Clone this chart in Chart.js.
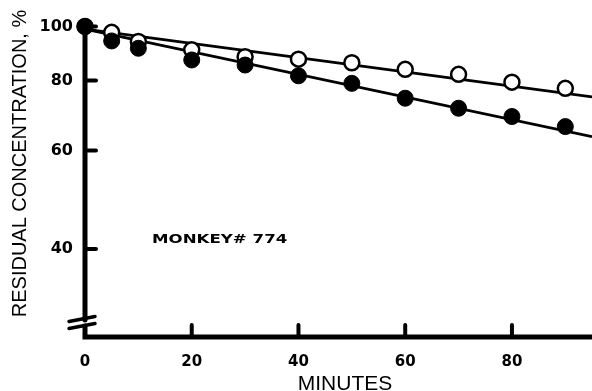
<!DOCTYPE html>
<html lang="en">
<head>
    <meta charset="UTF-8">
    <title>Residual concentration</title>
    <script src="https://cdn.jsdelivr.net/npm/chart.js"></script>
    <style>
        html, body { margin: 0; padding: 0; background: #fff; }
        #wrap { position: relative; width: 592px; height: 391px; }
    </style>
</head>
<body>
<div id="wrap"><canvas id="grafico"></canvas></div>
<script>
    // Data
    const minutes = [0, 5, 10, 20, 30, 40, 50, 60, 70, 80, 90];
    const openCircles = [100, 97.6, 94.0, 90.8, 88.3, 87.4, 86.1, 83.8, 82.1, 79.5, 77.5];
    const filledCircles = [100, 94.2, 91.4, 87.1, 85.3, 81.6, 79.1, 74.4, 71.4, 69.0, 66.2];
    // fitted straight lines (log scale), start and end
    const fitMinutes = [0, 95];
    const openFit = [98.9, 74.8];
    const filledFit = [98.9, 63.5];
    const xTicks = [0, 20, 40, 60, 80];
    const yTicks = [40, 60, 80, 100];

    const pts = (xs, ys) => xs.map((v, i) => ({x: v, y: ys[i]}));

    // no extra room for edge labels
    const noPad = s => { s.paddingTop = s.paddingBottom = s.paddingLeft = s.paddingRight = 0; };

    // hand drawn axes: ticks point inward, broken y axis
    const axesPlugin = {
        id: 'axes',
        beforeDatasetsDraw(chart) {
            const {ctx, chartArea, scales: {x, y}} = chart;
            const x0 = x.getPixelForValue(0);
            const b = chartArea.bottom;
            ctx.save();
            ctx.strokeStyle = '#000';
            ctx.lineCap = 'round';
            ctx.lineWidth = 5;
            ctx.beginPath();
            ctx.moveTo(x0, y.getPixelForValue(100));
            ctx.lineTo(x0, b - 17);
            ctx.moveTo(x0, b - 11);
            ctx.lineTo(x0, b);
            ctx.lineTo(chartArea.right + 5, b);
            ctx.stroke();

            ctx.lineWidth = 4;
            ctx.beginPath();
            yTicks.forEach(v => {
                const p = y.getPixelForValue(v);
                ctx.moveTo(x0, p);
                ctx.lineTo(x0 + 11, p);
            });
            xTicks.forEach(v => {
                if (v === 0) return;
                const p = x.getPixelForValue(v);
                ctx.moveTo(p, b);
                ctx.lineTo(p, b - 12);
            });
            ctx.stroke();

            // axis break
            ctx.lineWidth = 3.5;
            ctx.beginPath();
            [-15.5, -8.5].forEach(o => {
                ctx.moveTo(x0 - 16, b + o);
                ctx.lineTo(x0 + 10, b + o - 5);
            });
            ctx.stroke();
            ctx.restore();
        },
        afterDraw(chart) {
            const {ctx} = chart;
            ctx.save();
            ctx.fillStyle = '#000';

            ctx.font = '20px "Liberation Sans", Arial, sans-serif';
            ctx.textAlign = 'center';
            ctx.textBaseline = 'alphabetic';
            ctx.save();
            ctx.translate(26, 163.5);
            ctx.rotate(-Math.PI / 2);
            ctx.fillText('RESIDUAL CONCENTRATION, %', 0, 0);
            ctx.restore();

            ctx.font = '21px "Liberation Sans", Arial, sans-serif';
            ctx.fillText('MINUTES', 345, 390);

            ctx.font = 'bold 12.5px "DejaVu Sans", sans-serif';
            ctx.textAlign = 'left';
            ctx.save();
            ctx.translate(152, 243.3);
            ctx.scale(1.33, 1);
            ctx.fillText('MONKEY# 774', 0, 0);
            ctx.restore();

            ctx.restore();
        }
    };

    const ctx = document.getElementById('grafico').getContext('2d');
    new Chart(ctx, {
        type: 'line',
        data: {
            datasets: [
                {
                    data: pts(minutes, filledCircles),
                    showLine: false,
                    pointRadius: 8,
                    pointBackgroundColor: '#000',
                    pointBorderColor: '#000',
                    pointBorderWidth: 1,
                    clip: false
                },
                {
                    data: pts(minutes, openCircles),
                    showLine: false,
                    pointRadius: 7.5,
                    pointBackgroundColor: '#fff',
                    pointBorderColor: '#000',
                    pointBorderWidth: 2.5,
                    clip: false
                },
                {
                    data: pts(fitMinutes, openFit),
                    borderColor: '#000',
                    borderWidth: 2.6,
                    pointRadius: 0,
                    clip: false
                },
                {
                    data: pts(fitMinutes, filledFit),
                    borderColor: '#000',
                    borderWidth: 2.6,
                    pointRadius: 0,
                    clip: false
                }
            ]
        },
        options: {
            responsive: true,
            maintainAspectRatio: false,
            animation: false,
            layout: { padding: 0, autoPadding: false },
            plugins: {
                legend: { display: false },
                tooltip: { enabled: false }
            },
            scales: {
                x: {
                    type: 'linear',
                    min: 0,
                    max: 95,
                    bounds: 'data',
                    grid: { display: false, drawTicks: false },
                    border: { display: false },
                    afterBuildTicks: s => { s.ticks = xTicks.map(v => ({value: v})); },
                    afterFit: s => { s.height = 54; noPad(s); },
                    ticks: {
                        color: '#000',
                        padding: 16,
                        maxRotation: 0,
                        font: { family: '"DejaVu Sans", sans-serif', size: 15, weight: 'bold' },
                        callback: v => String(v)
                    }
                },
                y: {
                    type: 'logarithmic',
                    min: 27.83,
                    max: 111.5,
                    bounds: 'data',
                    grid: { display: false, drawTicks: false },
                    border: { display: false },
                    afterBuildTicks: s => { s.ticks = yTicks.map(v => ({value: v})); },
                    afterFit: s => { s.width = 85; noPad(s); },
                    ticks: {
                        color: '#000',
                        padding: 12,
                        font: { family: '"DejaVu Sans", sans-serif', size: 16, weight: 'bold' },
                        callback: v => String(v)
                    }
                }
            }
        },
        plugins: [axesPlugin]
    });
</script>
</body>
</html>
